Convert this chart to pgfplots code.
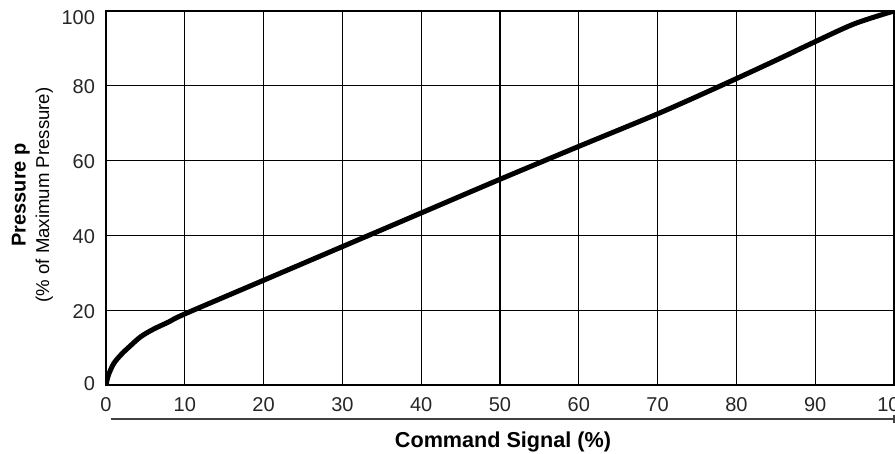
\documentclass[border=0pt]{standalone}
\usepackage{fontspec}
\setmainfont{Liberation Sans}
\usepackage{pgfplots}
\pgfplotsset{compat=1.18}
\begin{document}
\begin{tikzpicture}
\useasboundingbox (0,0) rectangle (447.5pt,227pt);
\begin{axis}[
  at={(53pt,34.5pt)}, anchor=south west,
  scale only axis, width=394pt, height=187pt,
  xmin=0, xmax=100, ymin=0, ymax=100,
  xtick={0,10,...,100}, ytick={0,20,...,80},
  yticklabels={\raisebox{2pt}{0},20,40,60,80},
  extra y ticks={100},
  extra y tick labels={100},
  extra y tick style={grid=none, yticklabel style={yshift=-3pt}},
  grid=major,
  major grid style={black, line width=0.6pt},
  axis line style={black, line width=0.8pt},
  major tick length=0pt,
  tick label style={font=\fontsize{10}{12}\selectfont, text=black!85},
  xticklabel style={yshift=-2.5pt},
  yticklabel style={xshift=-2pt, yshift=-0.5pt},
  /pgf/number format/assume math mode=true,
  xlabel={\textbf{Command Signal (\%)}},
  xlabel style={at={(axis description cs:0.5,0)}, anchor=center,
    yshift=-28.5pt, xshift=1.5pt, font=\fontsize{10.8}{12}\selectfont},
]
\addplot[black, line width=2.5pt, smooth] coordinates {
  (0,0) (0.3,2.6) (1,5.8) (2,8.3) (3,10.3) (4.4,12.9) (6,14.9) (8,16.9)
  (10,19.0) (20,28.0) (30,37.0) (40,46.0) (50,55.0) (60,63.8) (70,72.5)
  (78,80.0) (85,86.8) (90,91.8) (95,96.6) (100,100)
};
\end{axis}
\node[rotate=90, anchor=base, font=\bfseries\fontsize{10}{12}\selectfont] at (12.8pt,129.5pt) {Pressure p};
\node[rotate=90, anchor=base, font=\fontsize{9.3}{11}\selectfont] at (24.5pt,129.5pt) {(\% of Maximum Pressure)};
\draw[line width=0.75pt, black!75] (55.5pt,17.5pt) -- (447.5pt,17.5pt);
\draw[line width=0.75pt, black!75] (447pt,15.5pt) -- (447pt,19.5pt);
\end{tikzpicture}
\end{document}
